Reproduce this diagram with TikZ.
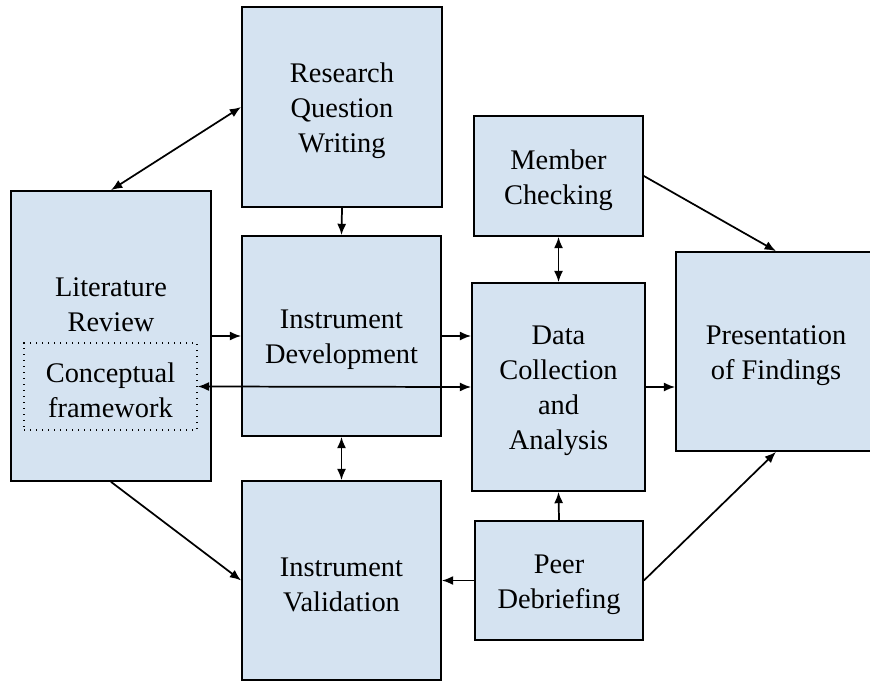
\documentclass[tikz,border=0pt]{standalone}
\usepackage{fontspec}
\setmainfont{Liberation Serif}
\usetikzlibrary{arrows.meta}
\definecolor{boxfill}{RGB}{213,227,241}
\tikzset{
  box/.style={draw=black, fill=boxfill, line width=1.3pt, rectangle, inner sep=0pt},
  lbl/.style={font=\fontsize{21.3}{26.3}\selectfont, align=center, inner sep=0pt},
  txt/.style={label={[lbl, yshift=-3pt]center:{#1}}},
  dotbox/.style={draw=black, line width=1.1pt, dash pattern=on 1.1pt off 3.4pt, rectangle, inner sep=0pt},
  tip/.tip={Latex[length=8.5pt,width=6.8pt]},
  arr/.style={line width=1.3pt, -tip},
  darr/.style={line width=1.3pt, tip-tip}
}
\begin{document}
\begin{tikzpicture}[x=0.75pt,y=-0.75pt]
\clip (0,0) rectangle (870,681);
\fill[white] (0,0) rectangle (870,681);
% boxes
\node[box, minimum width=150pt, minimum height=217.5pt] (lit) at (111,336) {};
\node[lbl] (littext) at (111,305) {Literature\\Review};
\node[dotbox, minimum width=129.75pt, minimum height=65.25pt, txt={Conceptual\\framework}] (cf) at (110.5,386.5) {};
\node[box, minimum width=150pt, minimum height=150pt, txt={Research\\Question\\Writing}] (rqw) at (342,107) {};
\node[box, minimum width=149.25pt, minimum height=150pt, txt={Instrument\\Development}] (id) at (341.5,336) {};
\node[box, minimum width=149.25pt, minimum height=149.25pt, txt={Instrument\\Validation}] (iv) at (341.5,580.5) {};
\node[box, minimum width=126.75pt, minimum height=90pt, txt={Member\\Checking}] (mc) at (558.5,176) {};
\node[box, minimum width=129.75pt, minimum height=156pt, txt={Data\\Collection\\and\\Analysis}] (dca) at (558.5,387) {};
\node[box, minimum width=126pt, minimum height=89.25pt, txt={Peer\\Debriefing}] (pd) at (559,580.5) {};
\node[box, minimum width=150pt, minimum height=149.25pt, txt={Presentation\\of Findings}] (pres) at (776,351.5) {};
% connectors
\draw[darr] (lit.north) -- (rqw.west);
\draw[arr] (rqw.south) -- (id.north);
\draw[arr] (lit.east) -- (id.west);
\draw[darr] (cf.east) -- (dca.west);
\draw[arr] (id.east) -- (id.east -| dca.west);
\draw[darr] (id.south) -- (iv.north);
\draw[arr] (lit.south) -- (iv.west);
\draw[darr] (mc.south) -- (dca.north);
\draw[arr] (mc.east) -- (pres.north);
\draw[arr] (dca.east) -- (dca.east -| pres.west);
\draw[arr] (pd.north) -- (dca.south);
\draw[arr] (pd.west) -- (iv.east);
\draw[arr] (pd.east) -- (pres.south);
\end{tikzpicture}
\end{document}
